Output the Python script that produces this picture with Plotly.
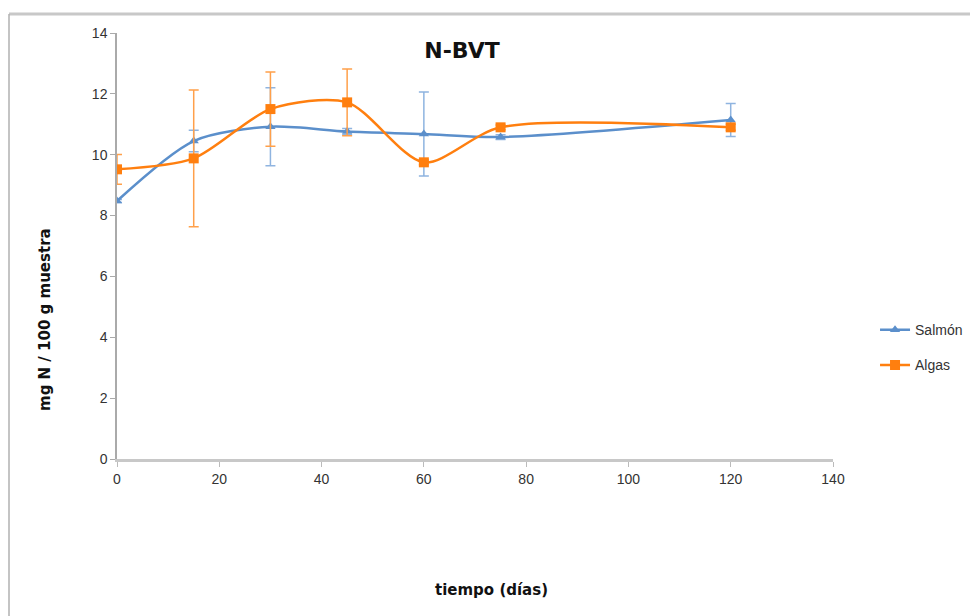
import plotly.graph_objects as go

dias = [0, 15, 30, 45, 60, 75, 120]
salmon = [8.48, 10.45, 10.92, 10.76, 10.68, 10.58, 11.14]
salmon_err = [0.05, 0.35, 1.28, 0.1, 1.38, 0.08, 0.54]
algas = [9.52, 9.88, 11.50, 11.72, 9.75, 10.90, 10.90]
algas_err = [0.49, 2.25, 1.22, 1.1, 0.08, 0.08, 0.1]

blue = "#5B8FCB"
orange = "#FF7F0F"
title_font = "DejaVu Sans, Liberation Sans, Arial"

fig = go.Figure()
fig.add_trace(go.Scatter(
    x=dias, y=salmon, name="Salmón", mode="lines+markers",
    line=dict(color=blue, width=2.5, shape="spline", smoothing=0.8),
    marker=dict(symbol="triangle-up", size=9, color=blue),
    error_y=dict(type="data", array=salmon_err, visible=True,
                 color="#8FB4E0", thickness=1.5, width=5),
    legendgroup="a",
))
fig.add_trace(go.Scatter(
    x=dias, y=algas, name="Algas", mode="lines+markers",
    line=dict(color=orange, width=2.5, shape="spline", smoothing=0.8),
    marker=dict(symbol="square", size=10, color=orange),
    error_y=dict(type="data", array=algas_err, visible=True,
                 color="#FFA04A", thickness=1.5, width=5),
    legendgroup="b",
))

# page body has an 8px margin, so the figure is 970x608 and starts at (8, 8)
fig.update_layout(
    width=970, height=608,
    margin=dict(l=109, r=145, t=25, b=157, autoexpand=False),
    paper_bgcolor="white", plot_bgcolor="white",
    font=dict(family="Liberation Sans, Arial", size=14, color="#333"),
    title=dict(text="<b>N-BVT</b>", xref="paper", x=(462 - 117) / 716, xanchor="center",
               yref="container", y=1 - (50 - 8) / 608, yanchor="middle",
               font=dict(family=title_font, size=22, color="#111")),
    showlegend=True,
    legend=dict(x=1.0587, y=0.340, xanchor="left", yanchor="top",
                font=dict(size=14, color="#333"), tracegroupgap=14,
                bgcolor="rgba(0,0,0,0)"),
    xaxis=dict(range=[0, 140], tickvals=[0, 20, 40, 60, 80, 100, 120, 140],
               showgrid=False, zeroline=False, showline=True, linecolor="#C8C8C8", linewidth=3,
               ticks="outside", tickcolor="#BBBBBB", ticklen=5),
    yaxis=dict(range=[0, 14], tickvals=[0, 2, 4, 6, 8, 10, 12, 14],
               showgrid=False, zeroline=False, showline=True, linecolor="#AAAAAA", linewidth=1.5,
               ticks="outside", tickcolor="#AAAAAA", ticklen=5),
    annotations=[
        dict(text="<b>tiempo (días)</b>", xref="paper", yref="paper",
             x=(491 - 117) / 716, y=1 - (590 - 33) / 426, xanchor="center", yanchor="middle",
             showarrow=False, font=dict(family=title_font, size=15, color="#111")),
        dict(text="<b>mg N / 100 g muestra</b>", xref="paper", yref="paper",
             x=(45 - 117) / 716, y=1 - (320 - 33) / 426, xanchor="center", yanchor="middle",
             textangle=-90, showarrow=False, font=dict(family=title_font, size=15, color="#111")),
    ],
)

# outer chart border (partially visible)
top = 1 + (33 - 14) / 426
left = (9 - 117) / 716
fig.add_shape(type="line", xref="paper", yref="paper", x0=left, x1=1.25,
              y0=top, y1=top, line=dict(color="#C8C8C8", width=3))
fig.add_shape(type="line", xref="paper", yref="paper", x0=left, x1=left,
              y0=top, y1=-0.4, line=dict(color="#B0B0B0", width=1.5))

fig.write_html("out.html")
